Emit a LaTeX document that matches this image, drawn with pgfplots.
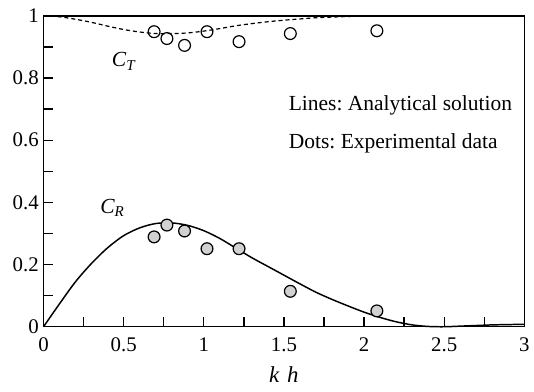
\documentclass[border=0pt]{standalone}
\usepackage{pgfplots}
\pgfplotsset{compat=1.18}
\usepackage{fontspec}
\setmainfont{Liberation Serif}
\frenchspacing

% Reflection coefficient C_R: analytical solution
\pgfplotstableread{
x     y
0     0
0.1   0.074
0.2   0.145
0.3   0.204
0.4   0.254
0.5   0.293
0.6   0.318
0.7   0.332
0.8   0.334
0.9   0.326
1.0   0.309
1.1   0.284
1.2   0.253
1.3   0.222
1.4   0.194
1.5   0.166
1.6   0.138
1.7   0.111
1.8   0.088
1.9   0.067
2.0   0.047
2.1   0.030
2.2   0.016
2.3   0.006
2.4   0.001
2.5   0.000
2.6   0.002
2.7   0.004
2.8   0.006
2.9   0.007
3.0   0.008
}\crline

% Transmission coefficient C_T: analytical solution
\pgfplotstableread{
x     y
0     1
0.1   0.997
0.2   0.989
0.3   0.979
0.4   0.967
0.5   0.956
0.6   0.948
0.7   0.943
0.8   0.943
0.9   0.945
1.0   0.951
1.1   0.959
1.2   0.968
1.3   0.975
1.4   0.981
1.5   0.986
1.6   0.990
1.7   0.994
1.8   0.996
1.9   0.998
2.0   0.999
2.1   1.000
2.2   1.000
2.5   1.000
3.0   1.000
}\ctline

% Measured C_T
\pgfplotstableread{
x     y
0.69  0.949
0.77  0.927
0.88  0.905
1.02  0.949
1.22  0.917
1.54  0.943
2.08  0.952
}\ctexp

% Measured C_R
\pgfplotstableread{
x     y
0.69  0.289
0.77  0.327
0.88  0.308
1.02  0.251
1.22  0.251
1.54  0.114
2.08  0.051
}\crexp

\begin{document}
\begin{tikzpicture}[font=\fontsize{16}{19}\selectfont]
\begin{axis}[
  scale only axis,
  width=358pt, height=231.5pt,
  xmin=0, xmax=3, ymin=0, ymax=1,
  axis line style={line width=1.1pt},
  tick align=inside,
  xtick pos=bottom, ytick pos=left,
  xtick={0,0.5,...,3},
  minor xtick={0.25,0.75,...,2.75},
  ytick={0,0.2,...,1},
  minor ytick={0.1,0.3,...,0.9},
  major tick length=7pt, minor tick length=7pt,
  every tick/.style={line width=1pt, black},
  /pgf/number format/assume math mode=true,
  /pgf/number format/fixed,
  tick label style={font=\fontsize{15.5}{18}\selectfont},
  x tick label style={yshift=-4.5pt},
  xlabel={\textit{k}\hspace{0.33em}\textit{h}},
  xlabel style={at={(axis description cs:0.5,0)}, anchor=base, yshift=-41.8pt,
    inner sep=0pt, font=\fontsize{17}{20}\selectfont},
  clip=false,
]
\addplot[black, line width=1.1pt, smooth] table {\crline};
\addplot[black, line width=0.9pt, dash pattern=on 3pt off 2.2pt, smooth] table {\ctline};
\addplot[only marks, mark=*, mark size=4.4pt,
  mark options={fill=black!18, draw=black, line width=0.9pt}] table {\crexp};
\addplot[only marks, mark=o, mark size=4.4pt,
  mark options={draw=black, line width=0.9pt}] table {\ctexp};

\node at (axis cs:0.50,0.853) {\textit{C\textsubscript{T}}};
\node at (axis cs:0.43,0.382) {\textit{C\textsubscript{R}}};
\node[anchor=base west, inner sep=0pt] at (axis cs:1.529,0.697) {Lines: Analytical solution};
\node[anchor=base west, inner sep=0pt] at (axis cs:1.529,0.573) {Dots: Experimental data};

\coordinate (bl) at (rel axis cs:0,0);
\coordinate (tr) at (rel axis cs:1,1);
\end{axis}
\path[use as bounding box] ([shift={(-32.4pt,-47.9pt)}]bl) rectangle ([shift={(2.9pt,11.8pt)}]tr);
\end{tikzpicture}
\end{document}
